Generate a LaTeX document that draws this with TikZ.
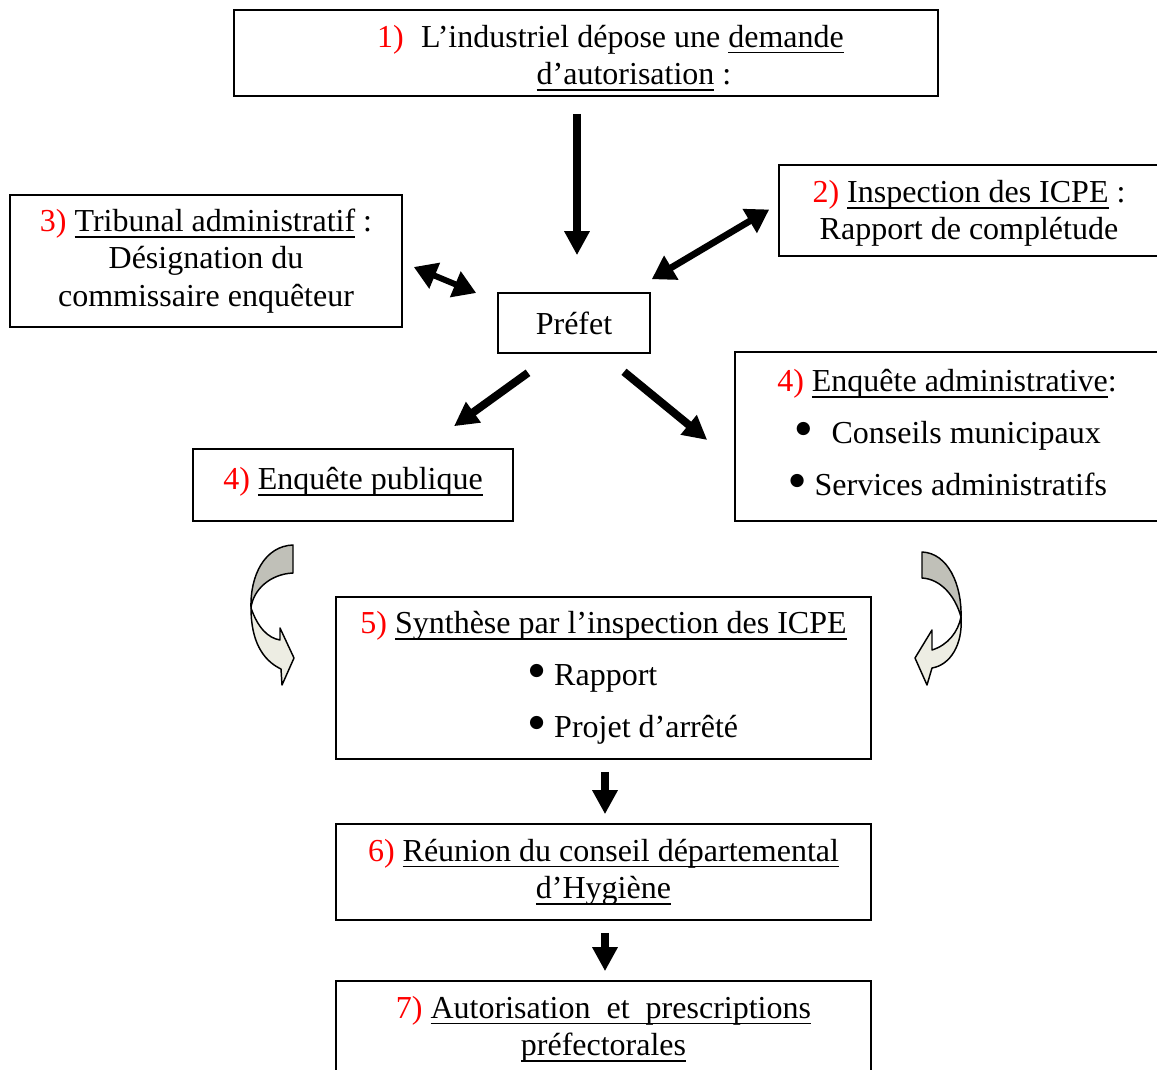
\documentclass[tikz,border=0pt]{standalone}
\usepackage{fontspec}
\setmainfont{Liberation Serif}
\newfontfamily\symfont{DejaVu Sans}
\usepackage{tikz}
\usetikzlibrary{arrows.meta}
\newsavebox{\ulbox}
\newcommand{\ul}[1]{\sbox{\ulbox}{#1}\rlap{\rule[-4.7pt]{\wd\ulbox}{1.2pt}}\usebox{\ulbox}}
\newcommand{\num}[1]{{\color{red}#1}}
\newcommand{\bul}{\makebox[16.8pt][l]{\hspace{2pt}\raisebox{7.5pt}{\fontsize{13}{13}\symfont ●}}}
\definecolor{curvgray}{RGB}{192,192,184}
\definecolor{curvlight}{RGB}{237,237,227}
\tikzset{
	box/.style={draw, line width=1.2pt, align=center, inner sep=0pt, font=\fontsize{24}{28}\selectfont},
	fat/.style={line width=6pt, -{Triangle[length=18pt, width=18pt]}},
	fatboth/.style={line width=5pt, {Triangle[length=17pt, width=20pt]}-{Triangle[length=17pt, width=20pt]}},
	curved/.style={draw, line width=1.1pt, line join=round}
}
\begin{document}
\begin{tikzpicture}[x=0.75pt, y=-0.75pt]
		\fill[white] (0,0) rectangle (1157,1070);
		\clip (0,0) rectangle (1157,1070);
		\useasboundingbox (0,0) rectangle (1157,1070);
		% boxes
		\node[box, minimum width=528pt, minimum height=64.5pt] (b1) at (586,53) {\rule{0pt}{24pt}\hspace*{36.75pt}\num{1)}\hspace{13pt}L’industriel dépose une \ul{demande}\\ \hspace*{72pt}\ul{d’autorisation} :};
		\node[box, minimum width=285pt, minimum height=68.25pt] (b2) at (969,210.5) {\rule{0pt}{21pt}\num{2)} \ul{Inspection des ICPE} :\\ Rapport de complétude};
		\node[box, minimum width=294pt, minimum height=99pt] (b3) at (206,261) {\num{3)} \ul{Tribunal administratif} :\\ Désignation du\\ commissaire enquêteur};
		\node[box, minimum width=114pt, minimum height=45pt] (prefet) at (574,323) {Préfet};
		\node[box, minimum width=240pt, minimum height=54pt] (b4p) at (353,485) {\num{4)} \ul{Enquête publique}\rule[-9.5pt]{0pt}{1pt}};
		\node[box, minimum width=318pt, minimum height=126.75pt] (b4a) at (947,436.5) {\num{4)} \ul{Enquête administrative}:\\[11pt] \bul\ \ Conseils municipaux\\[11pt] \bul\,Services administratifs\rule[-6pt]{0pt}{1pt}};
		\node[box, minimum width=401.25pt, minimum height=121.5pt] (b5) at (603.5,678) {\num{5)} \ul{Synthèse par l’inspection des ICPE}\\[11pt] \makebox[115.5pt][l]{\bul\,Rapport}\\[11pt] \makebox[115.5pt][l]{\bul\,Projet d’arrêté}};
		\node[box, minimum width=401.25pt, minimum height=72pt] (b6) at (603.5,872) {\num{6)} \ul{Réunion du conseil départemental}\\ \ul{d’Hygiène}};
		\node[box, minimum width=401.25pt, minimum height=72pt] (b7) at (603.5,1029) {\num{7)} \ul{Autorisation\ \ et\ \ prescriptions}\\ \ul{préfectorales}};
		% arrows around the prefet
		\draw[fat] ([shift={(-9,17)}]b1.south) -- ([shift={(3,-37)}]prefet.north);
		\draw[fatboth] ([shift={(1,-13)}]prefet.north east) -- ([shift={(-9,-1)}]b2.west);
		\draw[fatboth, line width=4.5pt] ([shift={(11,6)}]b3.east) -- ([shift={(-21,-30)}]prefet.west);
		\draw[fat] ([shift={(-46,19)}]prefet.south) -- ([shift={(101,-22)}]b4p.north);
		\draw[fat] ([shift={(50,18)}]prefet.south) -- ([shift={(-27,3.5)}]b4a.west);
		\foreach \a/\b in {b5/b6, b6/b7}
			\draw[fat] ([shift={(1.5,12)}]\a.south) -- ([shift={(1.5,-9)}]\b.north);
		% curved arrows
		\filldraw[curved, fill=curvgray] (293,545) .. controls (265,546) and (250,575) .. (251,608) .. controls (253,590) and (270,574) .. (293,573) -- cycle;
		\filldraw[curved, fill=curvlight] (251,608) .. controls (258,628) and (268,638) .. (280,640) -- (280,628) -- (294,658) -- (282,685) -- (281,669) .. controls (262,660) and (251,640) .. (251,608) -- cycle;
		\filldraw[curved, fill=curvgray] (922,552) .. controls (948,553) and (962,585) .. (961,617) .. controls (955,595) and (940,579) .. (922,578) -- cycle;
		\filldraw[curved, fill=curvlight] (961,617) .. controls (963,645) and (950,665) .. (932,668) -- (927,685) -- (915,658) -- (932,630) -- (932,650) .. controls (948,645) and (958,632) .. (961,617) -- cycle;
	\end{tikzpicture}
\end{document}
